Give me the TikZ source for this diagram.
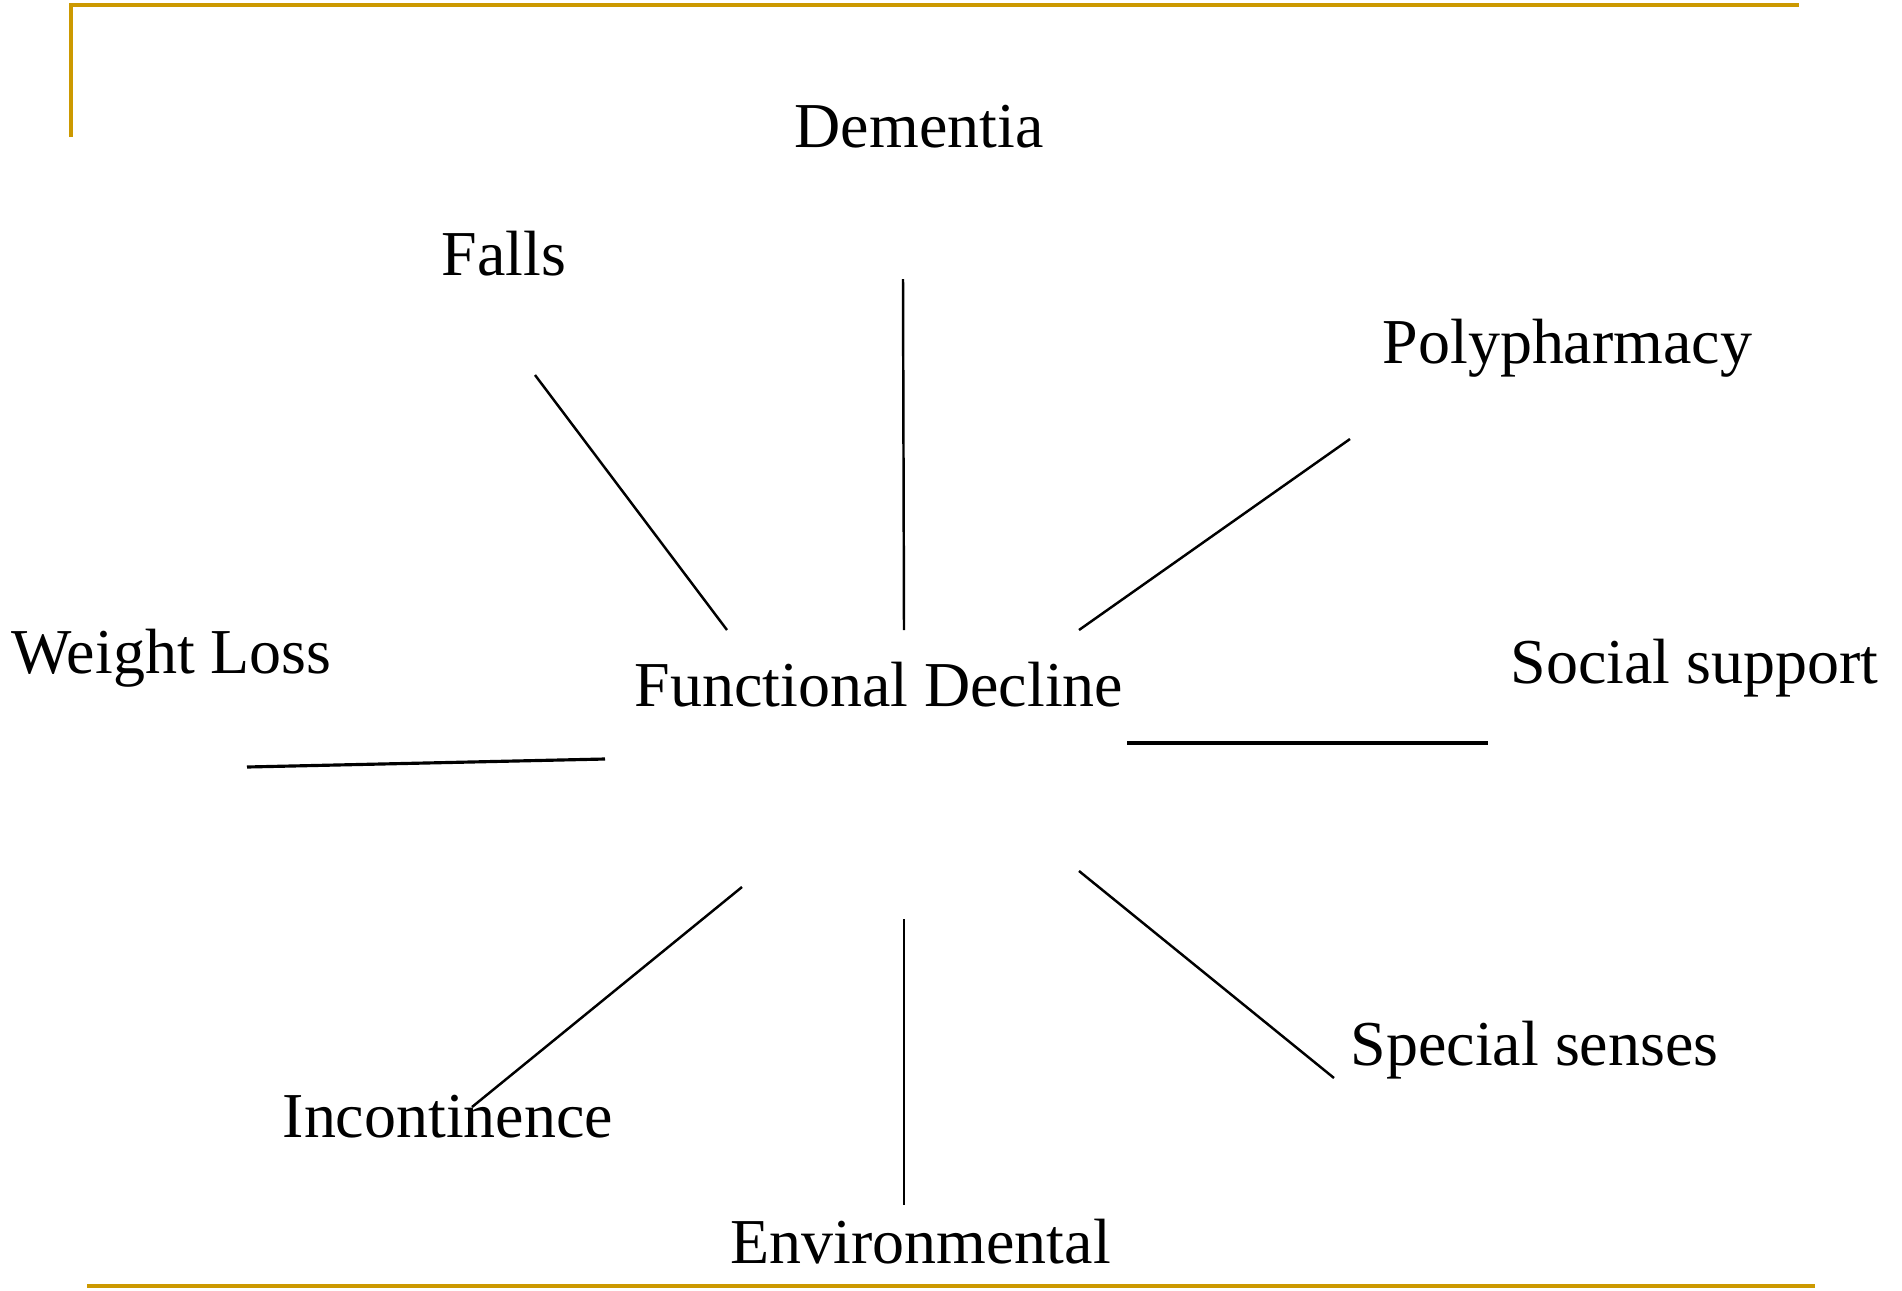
\documentclass[tikz,border=0pt]{standalone}
\usepackage{fontspec}
\setmainfont{Liberation Serif}
\definecolor{rimgold}{RGB}{204,153,0}
\tikzset{
	factor/.style={anchor=base west, inner sep=0pt, font=\fontsize{18.2}{22}\selectfont},
	spoke/.style={line width=0.7pt, color=black},
	rim/.style={line width=1.15pt, color=rimgold}
}

\begin{document}
\begin{tikzpicture}
		%%%%% FRAME %%%%%
		\useasboundingbox (0, 0) rectangle (19.02, -12.90);
		\draw[rim] (0.71, -1.37) -- (0.71, -0.05) -- (17.99, -0.05);
		\draw[rim] (0.87, -12.86) -- (18.15, -12.86);
		
		%%%%% LABELS %%%%%
		\node[factor] (decline) at (6.34, -7.06) {Functional Decline};
		\node[factor] (dementia) at (7.94, -1.47) {Dementia};
		\node[factor] (falls) at (4.41, -2.75) {Falls};
		\node[factor] (poly) at (13.82, -3.63) {Polypharmacy};
		\node[factor] (weight) at (0.11, -6.73) {Weight Loss};
		\node[factor] (social) at (15.10, -6.83) {Social support};
		\node[factor] (senses) at (13.50, -10.65) {Special senses};
		\node[factor] (incont) at (2.82, -11.37) {Incontinence};
		\node[factor] (environ) at (7.30, -12.63) {Environmental};
		
		%%%%% SPOKES %%%%%
		\coordinate (fallsA) at (5.35, -3.75);
		\coordinate (fallsB) at (7.27, -6.30);
		\coordinate (dementiaA) at (9.03, -2.79);
		\coordinate (dementiaB) at (9.04, -6.30);
		\coordinate (polyA) at (13.50, -4.39);
		\coordinate (polyB) at (10.79, -6.30);
		\coordinate (socialA) at (11.27, -7.43);
		\coordinate (socialB) at (14.88, -7.43);
		\coordinate (weightA) at (2.47, -7.67);
		\coordinate (weightB) at (6.05, -7.59);
		\coordinate (incontA) at (7.42, -8.87);
		\coordinate (incontB) at (4.72, -11.07);
		\coordinate (environA) at (9.04, -9.19);
		\coordinate (environB) at (9.04, -12.05);
		\coordinate (sensesA) at (10.79, -8.71);
		\coordinate (sensesB) at (13.34, -10.78);
		
		\draw[spoke] (fallsA) -- (fallsB);
		\draw[spoke] (dementiaA) -- (dementiaB);
		\draw[spoke] (polyA) -- (polyB);
		\draw[spoke, line width=0.9pt] (socialA) -- (socialB);
		\draw[spoke, line width=0.9pt] (weightA) -- (weightB);
		\draw[spoke] (incontA) -- (incontB);
		\draw[spoke] (environA) -- (environB);
		\draw[spoke] (sensesA) -- (sensesB);
\end{tikzpicture}
\end{document}
